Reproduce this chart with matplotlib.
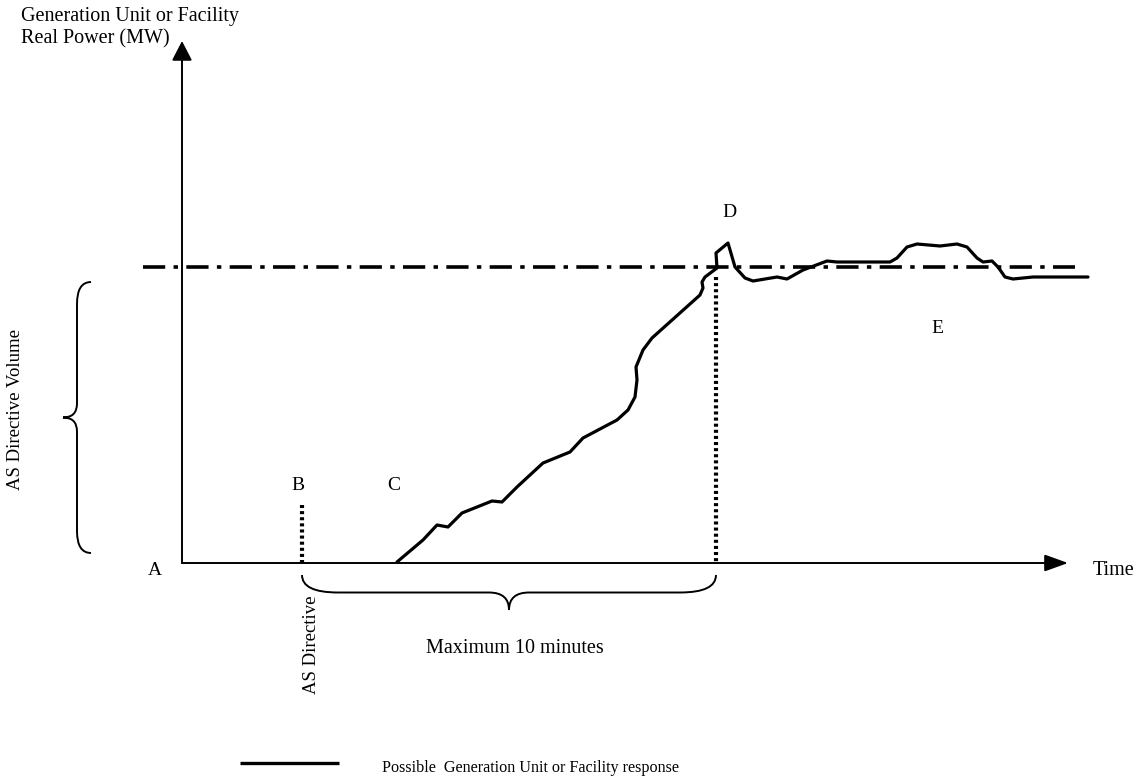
"""
AS directive response diagram - generation unit real power vs time
"""
import matplotlib
matplotlib.use("Agg")
import matplotlib.pyplot as plt
from matplotlib.path import Path
from matplotlib.patches import PathPatch

plt.rcParams["font.family"] = ["Liberation Serif", "DejaVu Serif"]
plt.rcParams["lines.scale_dashes"] = False

# Response curve (pixel coords, y grows downward)
resp_x = [397, 423, 437, 448, 462, 477, 492, 502, 517, 543, 570, 583, 617, 628,
          635, 637, 636, 643, 652, 700, 703, 702, 705, 717, 716, 728, 735, 745,
          753, 777, 787, 803, 827, 837, 890, 897, 907, 917, 940, 957, 967, 977,
          983, 992, 998, 1005, 1013, 1033, 1088]
resp_y = [562, 540, 525, 527, 513, 507, 501, 502, 487, 463, 452, 438, 420, 410,
          397, 380, 367, 350, 338, 295, 288, 282, 277, 268, 253, 243, 267, 278,
          281, 277, 279, 270, 261, 262, 262, 258, 247, 244, 246, 244, 247, 258,
          262, 261, 267, 277, 279, 277, 277]

origin = (182, 563)
y_top = 41
x_end = 1068
target_y = 267
target_span = (143, 1075)
directive_x = 302
directive_top = 505
reach_x = 716
reach_top = 277

letters = {"A": (155, 575), "B": (298, 490), "C": (394, 490),
           "D": (729, 217), "E": (937, 333)}

fig = plt.figure(figsize=(11.4, 7.8), dpi=100)
ax = fig.add_axes([0, 0, 1, 1])
ax.set_xlim(0, 1140)
ax.set_ylim(780, 0)
ax.axis("off")

# axes with arrows
ax.annotate("", xy=(origin[0], y_top), xytext=origin,
            arrowprops=dict(arrowstyle="-|>,head_length=0.6,head_width=0.31",
                            mutation_scale=20, lw=1.4, color="k", shrinkA=0, shrinkB=0))
ax.annotate("", xy=(x_end, origin[1]), xytext=origin,
            arrowprops=dict(arrowstyle="-|>,head_length=0.72,head_width=0.26",
                            mutation_scale=20, lw=1.4, color="k", shrinkA=0, shrinkB=0))

# target level (dash-dot)
ax.plot(target_span, [target_y, target_y], color="k", lw=2.6,
        dashes=(16, 6, 3.2, 6), solid_capstyle="butt", dash_capstyle="butt")

# dotted markers
ax.plot([directive_x, directive_x], [directive_top, origin[1]], color="k", lw=3,
        dashes=(2.2, 2.2), dash_capstyle="butt")
ax.plot([reach_x, reach_x], [reach_top, origin[1]], color="k", lw=3,
        dashes=(2.2, 2.2), dash_capstyle="butt")

# response
ax.plot(resp_x, resp_y, color="k", lw=2.3, solid_joinstyle="round",
        solid_capstyle="round")

# braces
def brace_h(x0, x1, y0, depth, end_w, tip_w):
    xm = (x0 + x1) / 2
    yb = y0 + depth / 2
    verts = [(x0, y0), (x0, yb), (x0 + end_w, yb),
             (xm - tip_w, yb), (xm, yb), (xm, y0 + depth),
             (xm, yb), (xm + tip_w, yb),
             (x1 - end_w, yb), (x1, yb), (x1, y0)]
    codes = [Path.MOVETO, Path.CURVE3, Path.CURVE3, Path.LINETO, Path.CURVE3,
             Path.CURVE3, Path.CURVE3, Path.CURVE3, Path.LINETO, Path.CURVE3,
             Path.CURVE3]
    return Path(verts, codes)

def brace_v(y0, y1, x0, depth, end_h, tip_h):
    ym = (y0 + y1) / 2
    xb = x0 - depth / 2
    verts = [(x0, y0), (xb, y0), (xb, y0 + end_h),
             (xb, ym - tip_h), (xb, ym), (x0 - depth, ym),
             (xb, ym), (xb, ym + tip_h),
             (xb, y1 - end_h), (xb, y1), (x0, y1)]
    codes = [Path.MOVETO, Path.CURVE3, Path.CURVE3, Path.LINETO, Path.CURVE3,
             Path.CURVE3, Path.CURVE3, Path.CURVE3, Path.LINETO, Path.CURVE3,
             Path.CURVE3]
    return Path(verts, codes)

ax.add_patch(PathPatch(brace_h(directive_x, reach_x, 575, 35, 36, 20),
                       fill=False, lw=1.4))
ax.add_patch(PathPatch(brace_v(282, 553, 91, 28, 22, 14), fill=False, lw=1.4))

# text
ax.text(21, 21, "Generation Unit or Facility", fontsize=14.5, va="baseline", ha="left")
ax.text(21, 43, "Real Power (MW)", fontsize=14.5, va="baseline", ha="left")
for k, (x, y) in letters.items():
    ax.text(x, y, k, fontsize=14, ha="center", va="baseline")
ax.text(1093, 575, "Time", fontsize=14.5, ha="left", va="baseline")
ax.text(515, 653, "Maximum 10 minutes", fontsize=14.5, ha="center", va="baseline")
ax.text(311, 645, "AS Directive", fontsize=13.5, ha="center", va="center", rotation=90)
ax.text(16, 410, "AS Directive Volume", fontsize=13.5, ha="center", va="center",
        rotation=90)

# legend
ax.plot([240, 339], [763, 763], color="k", lw=2.4, solid_capstyle="butt")
ax.text(382, 772, "Possible  Generation Unit or Facility response", fontsize=11.6,
        ha="left", va="baseline")

fig.savefig("out.png", dpi=100)
